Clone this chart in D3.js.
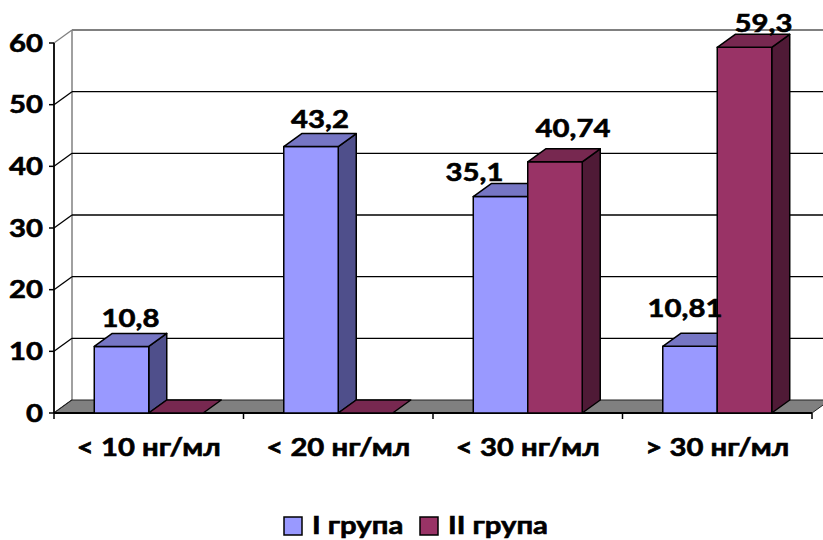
<!DOCTYPE html>
<html>
<head>
<meta charset="utf-8">
<script src="https://cdn.jsdelivr.net/npm/d3@7"></script>
<style>
  html, body { margin: 0; padding: 0; background: #ffffff; }
  svg { display: block; }
  text { font-family: Lato, "Open Sans", sans-serif; font-weight: bold; fill: #000;
         stroke: #000; stroke-width: 0.6px; }
</style>
</head>
<body>
<svg id="chart" width="823" height="540"></svg>
<script>
// Vitamin D level groups and the share of patients (%) in each study group
const categories = ["< 10 нг/мл", "< 20 нг/мл", "< 30 нг/мл", "> 30 нг/мл"];
const seriesNames = ["I група", "II група"];
const group1 = [10.8, 43.2, 35.1, 10.81];
const group2 = [0, 0, 40.74, 59.3];
const yTicks = [0, 10, 20, 30, 40, 50, 60];

const svg = d3.select("#chart");

// plot frame (front plane) and 3D depth offset
const plotLeft = 54, plotRight = 812, plotBottom = 413, plotTop = 43;
const DX = 18, DY = -13;
const SX = 1.22; // horizontal stretch of the lettering
const FS = 24;   // font size

const palette = [
  { front: "#9999ff", top: "#7676c4", side: "#4f4f8b" },
  { front: "#993366", top: "#772850", side: "#4f1a36" }
];

const y = d3.scaleLinear().domain([0, 60]).range([plotBottom, plotTop]);
const x0 = d3.scaleBand().domain(categories).range([plotLeft, plotRight])
  .paddingInner(0.425).paddingOuter(0.2125);
const x1 = d3.scaleBand().domain(seriesNames).range([0, x0.bandwidth()]);
const xAxisBand = d3.scaleBand().domain(categories).range([plotLeft, plotRight]);

function label(g, x, yy, str, anchor) {
  return g.append("text")
    .attr("transform", `translate(${x},${yy}) scale(${SX},1)`)
    .attr("text-anchor", anchor)
    .attr("font-size", FS)
    .text(str);
}

// back wall
const wall = svg.append("g");
wall.append("line")
  .attr("x1", plotLeft + DX).attr("x2", plotLeft + DX)
  .attr("y1", y(60) + DY).attr("y2", y(0) + DY)
  .attr("stroke", "#808080").attr("stroke-width", 1.5);
wall.append("line")
  .attr("x1", plotLeft + DX).attr("x2", plotRight + DX + 20)
  .attr("y1", y(60) + DY).attr("y2", y(60) + DY)
  .attr("stroke", "#808080").attr("stroke-width", 2);

// gridlines on the back wall and their links to the value axis
yTicks.filter(t => t > 0 && t < 60).forEach(t => {
  wall.append("line")
    .attr("x1", plotLeft + DX).attr("x2", plotRight + DX + 20)
    .attr("y1", y(t) + DY).attr("y2", y(t) + DY)
    .attr("stroke", "#000").attr("stroke-width", 1.3);
});
yTicks.forEach(t => {
  wall.append("line")
    .attr("x1", plotLeft).attr("x2", plotLeft + DX)
    .attr("y1", y(t)).attr("y2", y(t) + DY)
    .attr("stroke", t === 60 ? "#808080" : "#000").attr("stroke-width", 1.3);
});

// floor
svg.append("path")
  .attr("d", `M${plotLeft},${plotBottom} L${plotRight},${plotBottom} L${plotRight + DX},${plotBottom + DY} L${plotLeft + DX},${plotBottom + DY} Z`)
  .attr("fill", "#808080").attr("stroke", "#222").attr("stroke-width", 1);

// value axis
const yAxis = svg.append("g");
yAxis.append("line")
  .attr("x1", plotLeft).attr("x2", plotLeft).attr("y1", y(60)).attr("y2", y(0))
  .attr("stroke", "#000").attr("stroke-width", 1.8);
yTicks.forEach(t => {
  yAxis.append("line")
    .attr("x1", plotLeft - 5).attr("x2", plotLeft).attr("y1", y(t)).attr("y2", y(t))
    .attr("stroke", "#000").attr("stroke-width", 1.5);
  label(yAxis, 43, y(t) + 8.5, String(t), "end");
});

// category axis
const xAxis = svg.append("g");
xAxis.append("line")
  .attr("x1", plotLeft).attr("x2", plotRight).attr("y1", plotBottom).attr("y2", plotBottom)
  .attr("stroke", "#000").attr("stroke-width", 2);
[...categories.map(c => xAxisBand(c)), plotRight].forEach(px => {
  xAxis.append("line")
    .attr("x1", px).attr("x2", px).attr("y1", plotBottom).attr("y2", plotBottom + 6)
    .attr("stroke", "#000").attr("stroke-width", 1.5);
});
categories.forEach(c => {
  label(xAxis, xAxisBand(c) + xAxisBand.bandwidth() / 2, 456, c, "middle");
});

// 3D bars
const bars = svg.append("g").attr("stroke", "#000").attr("stroke-width", 1.5)
  .attr("stroke-linejoin", "round");
const seriesData = [group1, group2];
const fmt = v => String(v).replace(".", ",");

categories.forEach((c, ci) => {
  seriesData.forEach((vals, si) => {
    const v = vals[ci];
    const xl = x0(c) + x1(seriesNames[si]);
    const xr = xl + x1.bandwidth();
    const yt = y(v), yb = y(0);
    const col = palette[si];
    if (v > 0) {
      bars.append("path") // side face
        .attr("d", `M${xr},${yt} L${xr + DX},${yt + DY} L${xr + DX},${yb + DY} L${xr},${yb} Z`)
        .attr("fill", col.side);
      bars.append("path") // front face
        .attr("d", `M${xl},${yt} L${xr},${yt} L${xr},${yb} L${xl},${yb} Z`)
        .attr("fill", col.front);
    }
    bars.append("path") // top face
      .attr("d", `M${xl},${yt} L${xr},${yt} L${xr + DX},${yt + DY} L${xl + DX},${yt + DY} Z`)
      .attr("fill", col.top);
  });
});

// value labels (a few are nudged sideways to keep clear of neighbouring bars)
const nudge = { "0-2": [-35, 3], "0-3": [-14, -10], "1-2": [9, -6], "1-3": [10, 4] };
const labelLayer = svg.append("g");
categories.forEach((c, ci) => {
  seriesData.forEach((vals, si) => {
    const v = vals[ci];
    if (!(v > 0)) return;
    const xl = x0(c) + x1(seriesNames[si]);
    const cx = xl + x1.bandwidth() / 2 + DX / 2;
    const [ndx, ndy] = nudge[`${si}-${ci}`] || [0, 0];
    label(labelLayer, cx + ndx, y(v) + DY - 6 + ndy, fmt(v), "middle");
  });
});

// legend
const legend = svg.append("g");
const legendItems = [
  { name: seriesNames[0], x: 284, color: palette[0].front },
  { name: seriesNames[1], x: 420, color: palette[1].front }
];
legendItems.forEach(it => {
  legend.append("rect")
    .attr("x", it.x).attr("y", 517).attr("width", 18).attr("height", 18)
    .attr("fill", it.color).attr("stroke", "#000").attr("stroke-width", 1.5);
  label(legend, it.x + 28, 534, it.name, "start");
});
</script>
</body>
</html>
